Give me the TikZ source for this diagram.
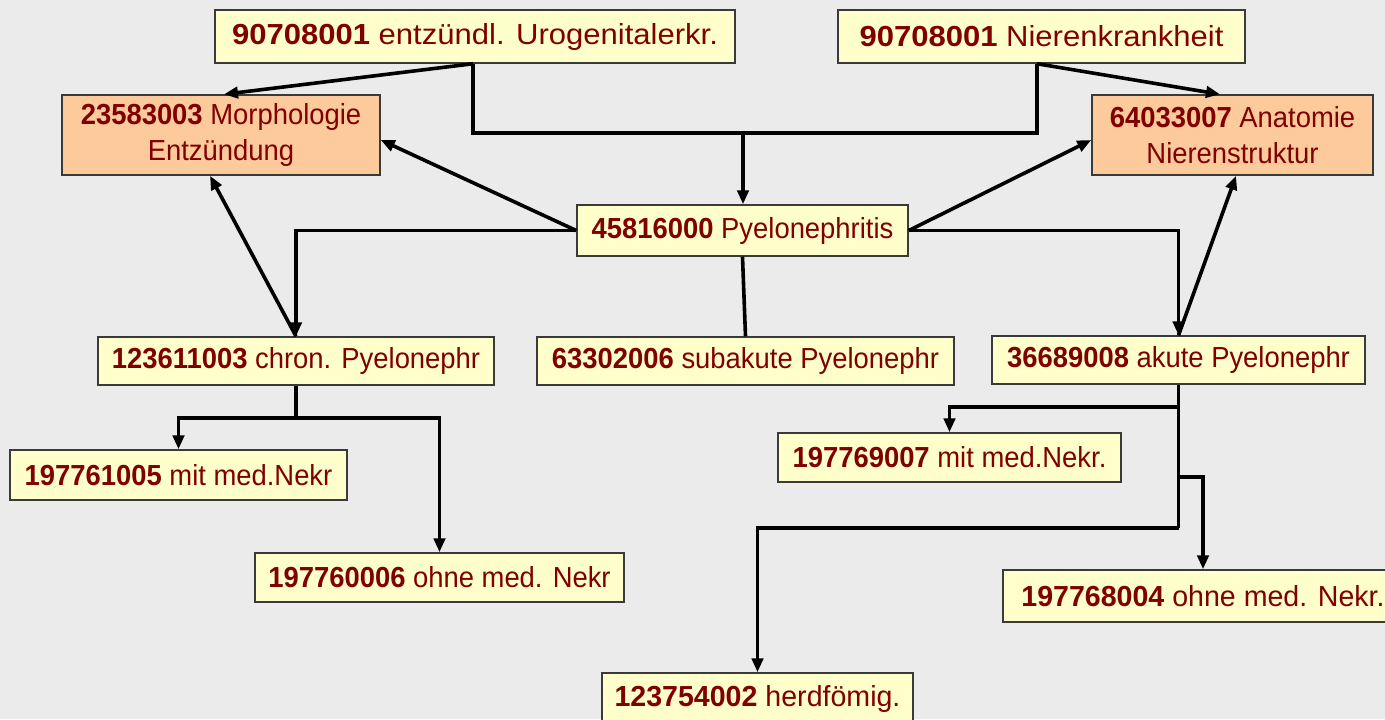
\documentclass[tikz,border=0pt]{standalone}
\usepackage{fontspec}
\setmainfont{Liberation Sans}
\newfontfamily\narrowfont{Liberation Sans}[FakeStretch=0.945]
\newfontfamily\midfont{Liberation Sans}[FakeStretch=0.985]
\newfontfamily\widefont{Liberation Sans}[FakeStretch=1.07]
\usetikzlibrary{arrows.meta}
\definecolor{bg}{HTML}{EBEBEB}
\definecolor{yel}{HTML}{FFFFCC}
\definecolor{ora}{HTML}{FCCA9B}
\definecolor{txt}{HTML}{800000}
\definecolor{brd}{HTML}{3A3A3A}
\begin{document}
\begin{tikzpicture}[x=0.75pt,y=-0.75pt,
  box/.style={draw=brd, line width=1.1pt, fill=yel, text=txt, inner sep=0pt, align=center,
    font=\narrowfont\fontsize{21.75}{26.5}\selectfont},
  bigbox/.style={box, font=\widefont\fontsize{21.75}{26.5}\selectfont},
  midbox/.style={box, font=\midfont\fontsize{21.75}{26.5}\selectfont},
  obox/.style={box, fill=ora},
  conn/.style={line width=2.7pt, draw=black},
  arr/.style={conn, -{Triangle[length=10.5pt,width=8.5pt]}}]
\fill[bg] (0,0) rectangle (1385,719);
\useasboundingbox (0,0) rectangle (1385,719);
\begin{scope}
\clip (0,0) rectangle (1385,719);
% nodes
\node[bigbox, minimum width=390pt, minimum height=39.75pt] (A) at (475,36.5) {\textbf{90708001} entzündl. Urogenitalerkr.};
\node[bigbox, minimum width=305.25pt, minimum height=39.75pt] (B) at (1041.5,36.5) {\textbf{90708001} Nierenkrankheit};
\node[obox, minimum width=238.5pt, minimum height=60pt] (C) at (221,135) {\textbf{23583003} Morphologie\\Entzündung};
\node[obox, minimum width=210.75pt, minimum height=60pt] (D) at (1232.5,135) {\textbf{64033007} Anatomie\\Nierenstruktur};
\node[box, minimum width=248.25pt, minimum height=38.25pt] (E) at (742.5,230.5) {\textbf{45816000} Pyelonephritis};
\node[box, minimum width=297pt, minimum height=36pt] (F) at (296,361) {\textbf{123611003} chron. Pyelonephr};
\node[box, minimum width=312.75pt, minimum height=36pt] (G) at (745.5,361) {\textbf{63302006} subakute Pyelonephr};
\node[box, minimum width=279.75pt, minimum height=36pt] (H) at (1178.5,360) {\textbf{36689008} akute Pyelonephr};
\node[box, minimum width=252.75pt, minimum height=37.5pt] (I) at (178.5,475) {\textbf{197761005} mit med.Nekr};
\node[box, minimum width=276.75pt, minimum height=36.75pt] (J) at (439.5,577.5) {\textbf{197760006} ohne med. Nekr};
\node[box, minimum width=257.25pt, minimum height=36.75pt] (K) at (949.5,457.5) {\textbf{197769007} mit med.Nekr.};
\node[midbox, minimum width=300pt, minimum height=39pt] (L) at (1203,596) {\textbf{197768004} ohne med. Nekr.};
\node[midbox, minimum width=233.25pt, minimum height=39pt] (M) at (757.5,699) {\textbf{123754002} herdfömig.};
% helper coordinates
\coordinate (jA) at (473,133);
\coordinate (jB) at (1037,133);
\coordinate (jE) at (743,133);
\coordinate (c1) at (224,95);
\coordinate (c2) at (380,140);
\coordinate (c3) at (210,175);
\coordinate (d1) at (1220,95);
\coordinate (d2) at (1092,140);
\coordinate (d3) at (1236,175);
\coordinate (f2) at (296,418);
\coordinate (h1) at (1178.5,407);
\coordinate (h2) at (1178.5,477);
\coordinate (h3) at (1178.5,528);
\coordinate (l1) at (1203,477);
% connectors
\draw[arr] (A.south -| jA) -- (C.north -| c1);
\draw[conn] (A.south -| jA) -- (jA) -- (jB) -- (B.south -| jB);
\draw[arr] (jE) -- (E.north -| jE);
\draw[arr] (B.south -| jB) -- (D.north -| d1);
\draw[arr] (E.west) -- (C.east |- c2);
\draw[arr] (E.west) -| (F.north);
\draw[arr] (E.east) -- (D.west |- d2);
\draw[arr] (E.east) -| (H.north);
\draw[conn] (E.south) -- (G.north);
\draw[arr] (F.north) -- (C.south -| c3);
\draw[arr] (H.north) -- (D.south -| d3);
\draw[conn] (F.south) -- (f2);
\draw[arr] (f2) -| (I.north);
\draw[arr] (f2) -| (J.north);
\draw[conn] (H.south) -- (h3);
\draw[arr] (h1) -| (K.north);
\draw[arr] (h2) -- (l1) -- (L.north -| l1);
\draw[arr] (h3) -| (M.north);
\end{scope}
\end{tikzpicture}
\end{document}
